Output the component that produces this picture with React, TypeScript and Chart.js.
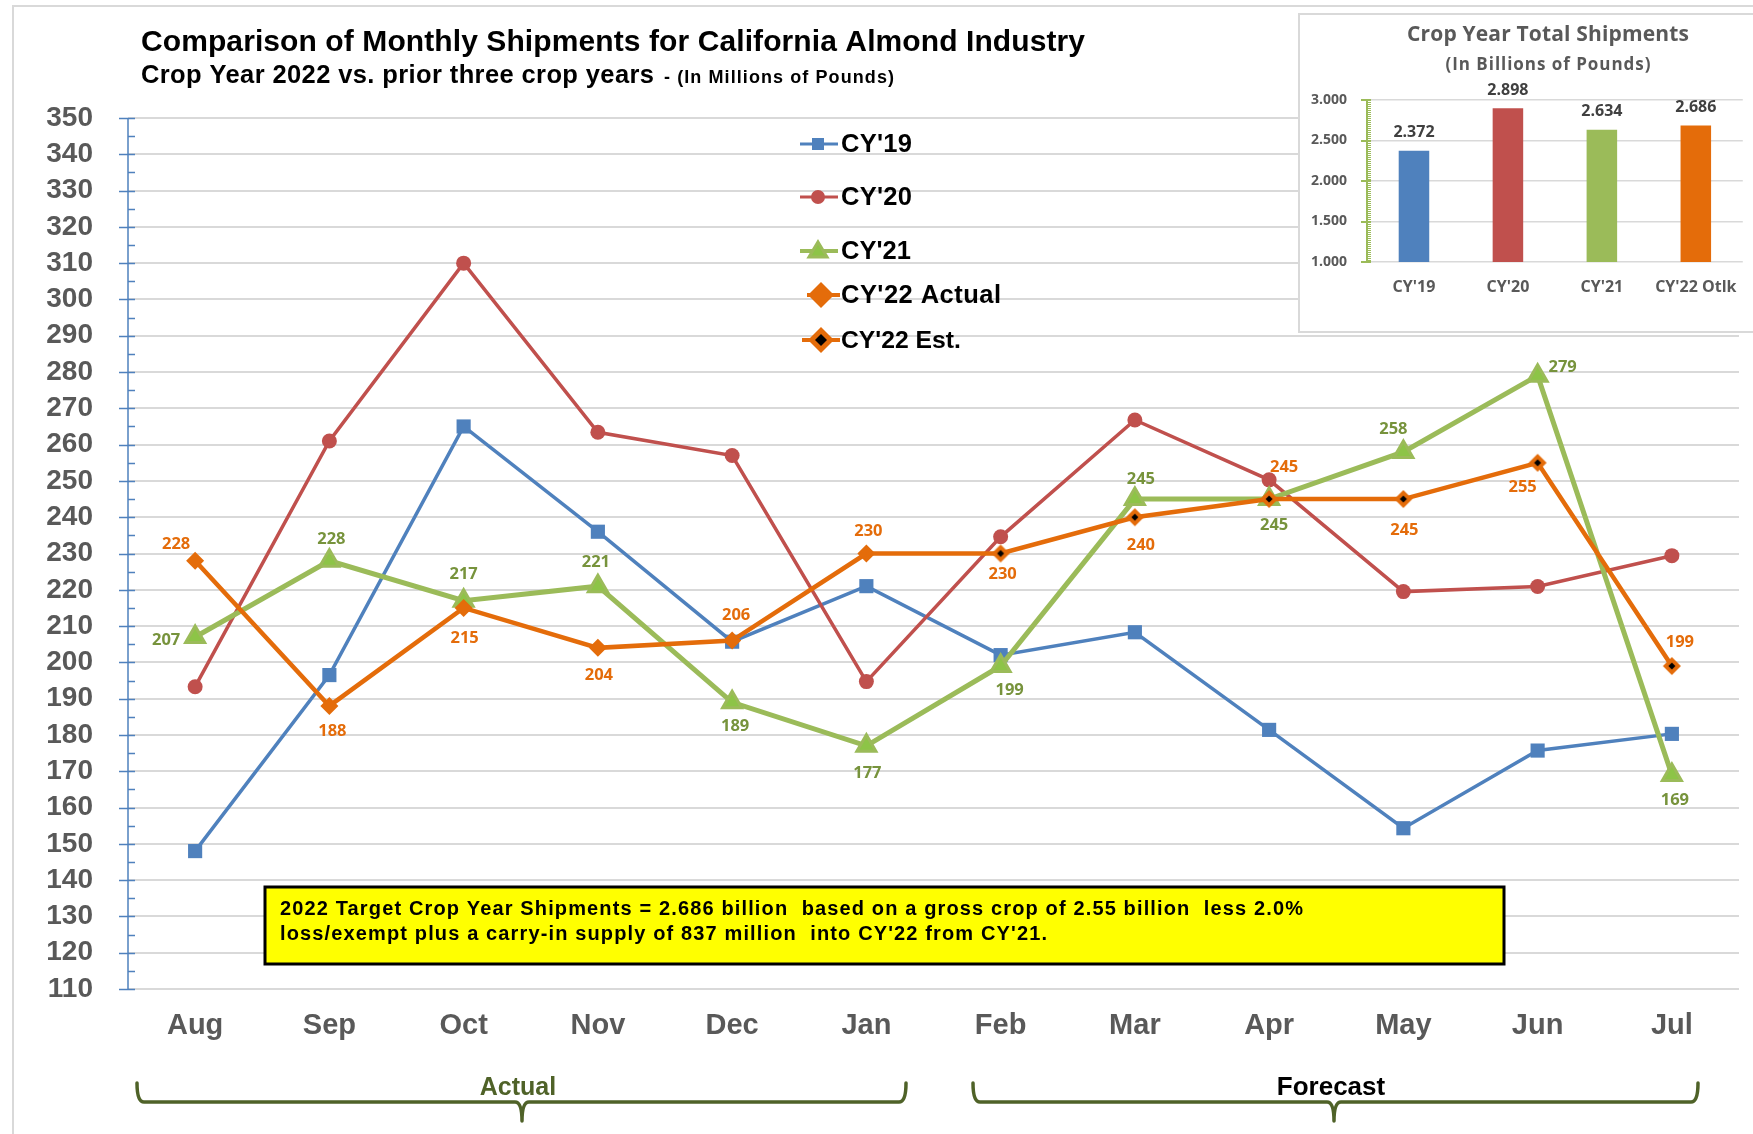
import React, { useEffect, useRef } from 'react';
import { Chart, registerables } from 'chart.js';

Chart.register(...registerables);

// ---------- data ----------
const months = ['Aug', 'Sep', 'Oct', 'Nov', 'Dec', 'Jan', 'Feb', 'Mar', 'Apr', 'May', 'Jun', 'Jul'];
const cy19Values = [148, 196.5, 265, 236, 205.7, 221, 202, 208.3, 181.4, 154.3, 175.7, 180.3];
const cy20Values = [193.3, 261, 310, 263.4, 257, 194.7, 234.6, 266.8, 250.3, 219.5, 220.9, 229.4];
const cy21Values = [207, 228, 217, 221, 189, 177, 199, 245, 245, 258, 279, 169];
const cy22ActualValues = [228, 188, 215, 204, 206, 230]; // Aug - Jan
const cy22EstValues = [230, 240, 245, 245, 255, 199]; // Feb - Jul
const yMin = 110;
const yMax = 350;
const yStep = 10;
const seriesNames = ["CY'19", "CY'20", "CY'21", "CY'22 Actual", "CY'22 Est."];

const totalLabels = ["CY'19", "CY'20", "CY'21", "CY'22 Otlk"];
const totalValues = [2.372, 2.898, 2.634, 2.686];
const totalMin = 1;
const totalMax = 3;
const totalStep = 0.5;

const titleText = 'Comparison of Monthly Shipments for California Almond Industry';
const subtitleText = 'Crop Year 2022 vs. prior three crop years';
const unitText = '- (In Millions of Pounds)';
const insetTitle = 'Crop Year Total Shipments';
const insetSubtitle = '(In Billions of Pounds)';
const noteLines = [
  '2022 Target Crop Year Shipments = 2.686 billion  based on a gross crop of 2.55 billion  less 2.0%',
  "loss/exempt plus a carry-in supply of 837 million  into CY'22 from CY'21.",
];
const bracketLabels = ['Actual', 'Forecast'];

// ---------- label placement (pixel offsets from the point) ----------
const cy21LabelOffsets = [[-29, 3], [2, -21], [0, -26], [-2, -24], [3, 24], [1, 27], [9, 24], [6, -20], [5, 26], [-10, -23], [25, -8], [3, 25]];
const actualLabelOffsets = [[-19, -16], [3, 25], [1, 30], [1, 27], [4, -25], [2, -22]];
const estLabelOffsets = [[2, 21], [6, 28], [15, -32], [1, 31], [-15, 25], [8, -24]];

// ---------- styles ----------
const BLUE = '#4F81BD';
const RED = '#C0504D';
const GREEN = '#9BBB59';
const GREEN_FILL = '#8DC447';
const ORANGE = '#E46C0A';
const GREEN_TEXT = '#77933C';
const GRID = '#D9D9D9';
const GRAY_TEXT = '#595959';
const OLIVE = '#4F6228';
const ARIAL = "'Liberation Sans', Arial, sans-serif";
const CALIBRI = "'Open Sans', Lato, sans-serif";

function diamond(g: CanvasRenderingContext2D, x: number, y: number, r: number, color: string) {
  g.beginPath();
  g.moveTo(x, y - r);
  g.lineTo(x + r, y);
  g.lineTo(x, y + r);
  g.lineTo(x - r, y);
  g.closePath();
  g.fillStyle = color;
  g.fill();
}

function makeEstMarker(r: number, inner: number) {
  const c = document.createElement('canvas');
  const s = Math.ceil(r * 2 + 2);
  c.width = s;
  c.height = s;
  const g = c.getContext('2d') as CanvasRenderingContext2D;
  diamond(g, s / 2, s / 2, r, ORANGE);
  diamond(g, s / 2, s / 2, inner, '#000');
  return c;
}

// draw text so that it spans exactly `target` pixels (letter spacing or font shrink)
function drawFitted(
  ctx: CanvasRenderingContext2D,
  text: string,
  x: number,
  y: number,
  target: number,
  weight: string,
  size: number,
  family: string
) {
  const c: any = ctx;
  c.letterSpacing = '0px';
  ctx.font = `${weight} ${size}px ${family}`;
  let w = ctx.measureText(text).width;
  if (w > target) {
    const s = (size * target) / w;
    ctx.font = `${weight} ${s}px ${family}`;
    w = ctx.measureText(text).width;
  } else if (text.length > 1) {
    const extra = (target - w) / (text.length - 1);
    c.letterSpacing = `${extra}px`;
  }
  const align = ctx.textAlign;
  let left = x;
  if (align === 'center') left = x - target / 2;
  else if (align === 'right') left = x - target;
  ctx.save();
  ctx.textAlign = 'left';
  ctx.fillText(text, left, y);
  ctx.restore();
  c.letterSpacing = '0px';
}

function drawBrace(ctx: CanvasRenderingContext2D, x1: number, x2: number, xm: number, yLine: number, yTop: number, yBottom: number) {
  ctx.save();
  ctx.strokeStyle = OLIVE;
  ctx.lineWidth = 3.5;
  ctx.lineCap = 'round';
  ctx.beginPath();
  ctx.moveTo(x1, yTop);
  ctx.quadraticCurveTo(x1, yLine, x1 + 7, yLine);
  ctx.lineTo(xm - 7, yLine);
  ctx.quadraticCurveTo(xm, yLine, xm, yBottom);
  ctx.moveTo(xm, yBottom);
  ctx.quadraticCurveTo(xm, yLine, xm + 7, yLine);
  ctx.lineTo(x2 - 7, yLine);
  ctx.quadraticCurveTo(x2, yLine, x2, yTop);
  ctx.stroke();
  ctx.restore();
}

function legendMarker(ctx: CanvasRenderingContext2D, kind: string, x: number, y: number) {
  ctx.save();
  if (kind === 'rect') {
    ctx.fillStyle = BLUE;
    ctx.fillRect(x - 6, y - 6, 12, 12);
  } else if (kind === 'circle') {
    ctx.fillStyle = RED;
    ctx.beginPath();
    ctx.arc(x, y, 7, 0, Math.PI * 2);
    ctx.fill();
  } else if (kind === 'triangle') {
    ctx.fillStyle = GREEN_FILL;
    ctx.strokeStyle = GREEN;
    ctx.lineWidth = 3;
    ctx.beginPath();
    ctx.moveTo(x, y - 9);
    ctx.lineTo(x + 9, y + 6);
    ctx.lineTo(x - 9, y + 6);
    ctx.closePath();
    ctx.fill();
    ctx.stroke();
  } else if (kind === 'diamond') {
    diamond(ctx, x, y, 13, ORANGE);
  } else if (kind === 'est') {
    diamond(ctx, x, y, 13, ORANGE);
    diamond(ctx, x, y, 6, '#000');
  }
  ctx.restore();
}

export default function App() {
  const mainRef = useRef<HTMLCanvasElement>(null);
  const insetRef = useRef<HTMLCanvasElement>(null);

  useEffect(() => {
    const nA = cy22ActualValues.length;
    const actualData = months.map((_, i) => (i < nA ? cy22ActualValues[i] : null));
    const estData = months.map((_, i) =>
      i === nA - 1 ? cy22ActualValues[nA - 1] : i >= nA ? cy22EstValues[i - nA] : null
    );
    const actualOffsets = months.map((_, i) => (i < nA ? actualLabelOffsets[i] : null));
    const estOffsets = months.map((_, i) => (i >= nA ? estLabelOffsets[i - nA] : null));
    const estRadius = months.map((_, i) => (i >= nA ? 9 : 0));
    const estMarker = makeEstMarker(9, 3.5);

    const labelPlugin = {
      id: 'valueLabels',
      afterDatasetsDraw(chart: any) {
        const ctx = chart.ctx;
        ctx.save();
        ctx.font = `bold 16.5px ${CALIBRI}`;
        ctx.textAlign = 'center';
        ctx.textBaseline = 'middle';
        chart.data.datasets.forEach((ds: any, di: number) => {
          const offs = ds.labelOffsets;
          if (!offs) return;
          const meta = chart.getDatasetMeta(di);
          ctx.fillStyle = ds.labelColor;
          meta.data.forEach((pt: any, i: number) => {
            const v = ds.data[i];
            const o = offs[i];
            if (v == null || !o) return;
            ctx.fillText(String(Math.round(v)), pt.x + o[0], pt.y + o[1]);
          });
        });
        ctx.restore();
      },
    };

    const decorPlugin = {
      id: 'mainDecor',
      beforeDraw(chart: any) {
        const ctx = chart.ctx;
        ctx.save();
        ctx.fillStyle = '#fff';
        ctx.fillRect(0, 0, chart.width, chart.height);
        ctx.strokeStyle = GRID;
        ctx.lineWidth = 2;
        ctx.strokeRect(13, 6, 1800, 1200);
        ctx.restore();
      },
      afterDraw(chart: any) {
        const ctx = chart.ctx;
        const ys = chart.scales.y;
        const area = chart.chartArea;
        ctx.save();
        // y axis line with ticks
        const ax = area.left;
        ctx.strokeStyle = BLUE;
        ctx.lineWidth = 2;
        ctx.beginPath();
        ctx.moveTo(ax, ys.getPixelForValue(yMax));
        ctx.lineTo(ax, ys.getPixelForValue(yMin));
        for (let v = yMin; v <= yMax + 0.001; v += yStep / 2) {
          const py = Math.round(ys.getPixelForValue(v)) + 0.5;
          const major = Math.abs(((v - yMin) / yStep) % 1) < 0.001;
          ctx.moveTo(major ? ax - 9 : ax, py);
          ctx.lineTo(ax + 7, py);
        }
        ctx.lineWidth = 1.5;
        ctx.stroke();

        // titles
        ctx.fillStyle = '#000';
        ctx.textBaseline = 'middle';
        ctx.textAlign = 'left';
        drawFitted(ctx, titleText, 141, 43, 944, 'bold', 30, ARIAL);
        drawFitted(ctx, subtitleText, 141, 76, 513, 'bold', 25.5, ARIAL);
        drawFitted(ctx, unitText, 664, 78, 230, 'bold', 18, ARIAL);

        // legend
        const legendRows = [
          { kind: 'rect', color: BLUE, y: 144, lw: 3, x1: 800, x2: 838, mx: 818 },
          { kind: 'circle', color: RED, y: 197, lw: 3, x1: 800, x2: 838, mx: 818 },
          { kind: 'triangle', color: GREEN, y: 251, lw: 4, x1: 800, x2: 838, mx: 818 },
          { kind: 'diamond', color: ORANGE, y: 295, lw: 4, x1: 807, x2: 840, mx: 821 },
          { kind: 'est', color: ORANGE, y: 340, lw: 4, x1: 802, x2: 840, mx: 821 },
        ];
        const legendWidths = [71, 71, 70, 160, 120];
        legendRows.forEach((r, i) => {
          ctx.strokeStyle = r.color;
          ctx.lineWidth = r.lw;
          ctx.beginPath();
          ctx.moveTo(r.x1, r.y);
          ctx.lineTo(r.x2, r.y);
          ctx.stroke();
          legendMarker(ctx, r.kind, r.mx, r.y);
          ctx.fillStyle = '#000';
          ctx.textAlign = 'left';
          ctx.textBaseline = 'middle';
          drawFitted(ctx, seriesNames[i], 841, r.y + 1, legendWidths[i], 'bold', 25.5, ARIAL);
        });

        // note box
        ctx.fillStyle = '#FFFF00';
        ctx.fillRect(265, 887, 1239, 77);
        ctx.strokeStyle = '#000';
        ctx.lineWidth = 3;
        ctx.strokeRect(265, 887, 1239, 77);
        ctx.fillStyle = '#000';
        drawFitted(ctx, noteLines[0], 280, 909, 1023, 'bold', 20, ARIAL);
        drawFitted(ctx, noteLines[1], 280, 934, 767, 'bold', 20, ARIAL);

        // brackets
        drawBrace(ctx, 137, 906, 522, 1102, 1083, 1121);
        drawBrace(ctx, 973, 1698, 1334, 1102, 1083, 1121);
        ctx.textAlign = 'center';
        ctx.font = `bold 25px ${ARIAL}`;
        ctx.fillStyle = OLIVE;
        ctx.fillText(bracketLabels[0], 518, 1088);
        ctx.font = `bold 26px ${ARIAL}`;
        ctx.fillStyle = '#000';
        ctx.fillText(bracketLabels[1], 1331, 1088);
        ctx.restore();
      },
    };

    const main = new Chart(mainRef.current as HTMLCanvasElement, {
      type: 'line',
      data: {
        labels: months,
        datasets: [
          {
            label: seriesNames[0],
            data: cy19Values,
            borderColor: BLUE,
            borderWidth: 3.5,
            pointStyle: 'rect',
            pointRadius: 10,
            pointBackgroundColor: BLUE,
            pointBorderWidth: 0,
            order: 5,
          },
          {
            label: seriesNames[1],
            data: cy20Values,
            borderColor: RED,
            borderWidth: 3.5,
            pointStyle: 'circle',
            pointRadius: 7.5,
            pointBackgroundColor: RED,
            pointBorderWidth: 0,
            order: 4,
          },
          {
            label: seriesNames[2],
            data: cy21Values,
            borderColor: GREEN,
            borderWidth: 5,
            pointStyle: 'triangle',
            pointRadius: 11,
            pointBackgroundColor: GREEN_FILL,
            pointBorderColor: GREEN,
            pointBorderWidth: 3,
            order: 3,
            labelOffsets: cy21LabelOffsets,
            labelColor: GREEN_TEXT,
          } as any,
          {
            label: seriesNames[3],
            data: actualData,
            borderColor: ORANGE,
            borderWidth: 4.5,
            pointStyle: 'rectRot',
            pointRadius: 9,
            pointBackgroundColor: ORANGE,
            pointBorderWidth: 0,
            order: 2,
            labelOffsets: actualOffsets,
            labelColor: ORANGE,
          } as any,
          {
            label: seriesNames[4],
            data: estData,
            borderColor: ORANGE,
            borderWidth: 4.5,
            pointStyle: estMarker,
            pointRadius: estRadius,
            pointBorderWidth: 0,
            order: 1,
            labelOffsets: estOffsets,
            labelColor: ORANGE,
          } as any,
        ],
      },
      options: {
        animation: false,
        responsive: false,
        devicePixelRatio: 1,
        layout: { padding: { top: 118, right: 13, left: 0, bottom: 0 } },
        elements: { line: { tension: 0 } },
        plugins: {
          legend: { display: false },
          tooltip: { enabled: false },
          title: { display: false },
        },
        scales: {
          x: {
            offset: true,
            grid: { display: false, drawTicks: false },
            border: { display: false },
            ticks: {
              font: { family: ARIAL, size: 29, weight: 'bold' },
              color: GRAY_TEXT,
              padding: 20,
              maxRotation: 0,
              autoSkip: false,
            },
            afterFit: (s: any) => {
              s.height = 145;
            },
          },
          y: {
            min: yMin,
            max: yMax,
            ticks: {
              stepSize: yStep,
              autoSkip: false,
              font: { family: ARIAL, size: 28, weight: 'bold' },
              color: GRAY_TEXT,
              padding: 35,
            },
            grid: { color: GRID, lineWidth: 2, drawTicks: false },
            border: { display: false },
            afterFit: (s: any) => {
              s.width = 128;
            },
          },
        },
      } as any,
      plugins: [decorPlugin, labelPlugin],
    });

    const insetPlugin = {
      id: 'insetDecor',
      beforeDraw(chart: any) {
        const ctx = chart.ctx;
        ctx.save();
        ctx.fillStyle = '#fff';
        ctx.fillRect(0, 0, chart.width, chart.height);
        ctx.strokeStyle = GRID;
        ctx.lineWidth = 2;
        ctx.strokeRect(1, 1, 600, 318);
        ctx.restore();
      },
      afterDraw(chart: any) {
        const ctx = chart.ctx;
        const ys = chart.scales.y;
        const area = chart.chartArea;
        ctx.save();
        ctx.fillStyle = GRAY_TEXT;
        ctx.textAlign = 'center';
        ctx.textBaseline = 'middle';
        drawFitted(ctx, insetTitle, 250, 22, 282, 'bold', 21, CALIBRI);
        drawFitted(ctx, insetSubtitle, 250, 52, 205, 'bold', 17, CALIBRI);

        // axis
        const ax = area.left;
        ctx.strokeStyle = GREEN;
        ctx.lineWidth = 2;
        ctx.beginPath();
        ctx.moveTo(ax, ys.getPixelForValue(totalMax));
        ctx.lineTo(ax, ys.getPixelForValue(totalMin));
        ctx.stroke();
        ctx.lineWidth = 1;
        ctx.beginPath();
        for (let v = totalMin; v <= totalMax + 1e-6; v += 0.025) {
          const py = Math.round(ys.getPixelForValue(v)) + 0.5;
          ctx.moveTo(ax, py);
          ctx.lineTo(ax + 4, py);
        }
        ctx.stroke();
        ctx.lineWidth = 2;
        ctx.beginPath();
        for (let v = totalMin; v <= totalMax + 1e-6; v += totalStep) {
          const py = Math.round(ys.getPixelForValue(v));
          ctx.moveTo(ax - 6, py);
          ctx.lineTo(ax + 4, py);
        }
        ctx.stroke();

        // value labels
        const meta = chart.getDatasetMeta(0);
        ctx.fillStyle = '#404040';
        ctx.font = `bold 16px ${CALIBRI}`;
        meta.data.forEach((bar: any, i: number) => {
          ctx.fillText(totalValues[i].toFixed(3), bar.x, bar.y - 18);
        });
        ctx.restore();
      },
    };

    const inset = new Chart(insetRef.current as HTMLCanvasElement, {
      type: 'bar',
      data: {
        labels: totalLabels,
        datasets: [
          {
            data: totalValues,
            backgroundColor: [BLUE, RED, GREEN, ORANGE],
            barPercentage: 0.325,
            categoryPercentage: 1,
          },
        ],
      },
      options: {
        animation: false,
        responsive: false,
        devicePixelRatio: 1,
        layout: { padding: { top: 87, right: 4, left: 0, bottom: 0 } },
        plugins: { legend: { display: false }, tooltip: { enabled: false } },
        scales: {
          x: {
            grid: { display: false, drawTicks: false },
            border: { display: false },
            ticks: {
              font: { family: CALIBRI, size: 16, weight: 'bold' },
              color: GRAY_TEXT,
              padding: 16,
              maxRotation: 0,
              autoSkip: false,
            },
            afterFit: (s: any) => {
              s.height = 71;
            },
          },
          y: {
            min: totalMin,
            max: totalMax,
            ticks: {
              stepSize: totalStep,
              callback: (v: any) => Number(v).toFixed(3),
              font: { family: CALIBRI, size: 14, weight: 'bold' },
              color: GRAY_TEXT,
              padding: 20,
            },
            grid: { color: GRID, lineWidth: 1.5, drawTicks: false },
            border: { display: false },
            afterFit: (s: any) => {
              s.width = 69;
            },
          },
        },
      } as any,
      plugins: [insetPlugin],
    });

    return () => {
      main.destroy();
      inset.destroy();
    };
  }, []);

  return (
    <div
      style={{
        position: 'absolute',
        left: 0,
        top: 0,
        width: 1753,
        height: 1134,
        background: '#fff',
        overflow: 'hidden',
      }}
    >
      <canvas ref={mainRef} width={1753} height={1134} style={{ position: 'absolute', left: 0, top: 0 }} />
      <canvas ref={insetRef} width={455} height={320} style={{ position: 'absolute', left: 1298, top: 13 }} />
    </div>
  );
}
